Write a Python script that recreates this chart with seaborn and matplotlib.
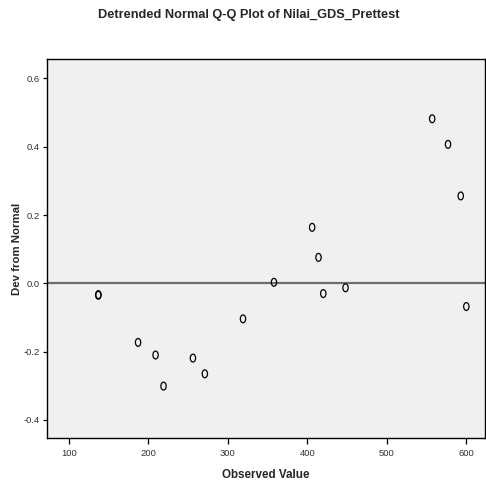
import matplotlib
matplotlib.use("Agg")
import matplotlib.pyplot as plt
from matplotlib.path import Path
from matplotlib.transforms import Affine2D
import seaborn as sns
import pandas as pd

sns.set_theme(style="white")
plt.rcParams['font.family'] = ['Liberation Sans', 'DejaVu Sans']

# observed values and their deviation from normal
observed = [137, 137, 187, 209, 219, 256, 271, 319, 358,
            406, 414, 420, 448, 557, 577, 593, 600]
dev_from_normal = [-0.033, -0.035, -0.173, -0.210, -0.301, -0.219, -0.265, -0.104, 0.003,
                   0.164, 0.076, -0.030, -0.013, 0.482, 0.407, 0.256, -0.068]

x_ticks = [100, 200, 300, 400, 500, 600]
y_ticks = [-0.4, -0.2, 0.0, 0.2, 0.4, 0.6]

df = pd.DataFrame({"obs": observed, "dev": dev_from_normal})

# SPSS style open marker, a bit taller than wide
circle = Path.unit_circle()
oval = circle.transformed(Affine2D().scale(0.68, 1.0))

fig = plt.figure(figsize=(4.86, 4.82), dpi=100)
ax = fig.add_axes([47 / 486, 1 - 438 / 482, 438 / 486, 379 / 482])
ax.set_facecolor("#f0f0f0")

ax.axhline(0, color="#6e6e6e", lw=1.6, zorder=1)
sns.scatterplot(data=df, x="obs", y="dev", ax=ax, marker=oval, s=32,
                facecolor="none", edgecolor="black", linewidth=0.9, zorder=3)

ax.set_xlim(72.4, 623.5)
ax.set_ylim(-0.453, 0.657)
ax.set_xticks(x_ticks)
ax.set_yticks(y_ticks)
ax.set_xticklabels([str(t) for t in x_ticks])
ax.set_yticklabels(["%.1f" % t for t in y_ticks])

for side in ["left", "bottom", "top", "right"]:
    ax.spines[side].set_visible(True)
    ax.spines[side].set_color("black")
    ax.spines[side].set_linewidth(1.0)

ax.tick_params(axis="x", bottom=True, direction="out", length=4.5, width=0.9,
               labelsize=6.8, pad=3.5, colors="black")
ax.tick_params(axis="y", left=True, direction="out", length=3, width=0.9,
               labelsize=6.8, pad=2, colors="black")
for lab in ax.get_xticklabels() + ax.get_yticklabels():
    lab.set_color("#333333")

ax.set_xlabel("Observed Value", fontsize=8.4, fontweight="bold", labelpad=7.5)
ax.set_ylabel("Dev from Normal", fontsize=8.2, fontweight="bold", labelpad=1.5)

fig.text(249 / 486, 1 - 15 / 482, "Detrended Normal Q-Q Plot of Nilai_GDS_Prettest",
         ha="center", va="center", fontsize=9.2, fontweight="bold")

fig.savefig("out.png", dpi=100, facecolor="white")
